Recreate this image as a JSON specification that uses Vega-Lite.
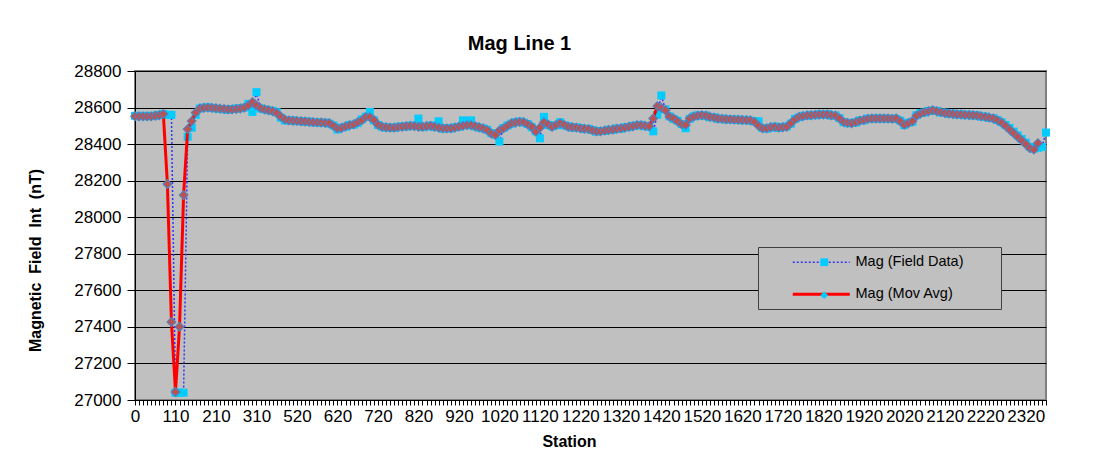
{
 "$schema": "https://vega.github.io/schema/vega-lite/v6.json",
 "width": 911,
 "height": 329,
 "autosize": "none",
 "padding": {"left": 135, "top": 71, "right": 61, "bottom": 59},
 "background": "white",
 "title": {"text": "Mag Line 1", "fontSize": 20, "font": "Liberation Sans", "fontWeight": "bold", "color": "black", "anchor": "middle", "frame": "group", "dx": -71, "offset": 8},
 "config": {
  "view": {"fill": "#C0C0C0", "stroke": "#808080", "strokeWidth": 2},
  "font": "Liberation Sans",
  "axisX": {"labelAngle": 0, "labelOverlap": false, "labelFontSize": 17, "labelColor": "black", "tickColor": "black", "tickSize": 5, "domainColor": "black", "titleFontSize": 16, "titleFontWeight": "bold", "titleColor": "black", "titleX": 434, "titleY": 41, "titleBaseline": "middle", "grid": false, "labelPadding": 3, "labelFlush": false},
  "axisY": {"labelFontSize": 17, "labelColor": "black", "tickColor": "black", "tickSize": 8, "domainColor": "black", "gridColor": "black", "gridWidth": 1, "gridOpacity": 1, "titleFontSize": 16, "titleFontWeight": "bold", "titleColor": "black", "titleX": -100, "titleY": 189, "titleAngle": -90, "titleAlign": "center", "titleBaseline": "middle", "labelPadding": 6, "format": "d"}
 },
 "data": {"values": [
  {"s":0,"f":28555,"m":28552},{"s":20,"f":28552,"m":28552},{"s":30,"f":28555,"m":28552},{"s":40,"f":28552,"m":28552},{"s":50,"f":28555,"m":28552},{"s":60,"f":28555,"m":28555},{"s":70,"f":28560,"m":28558},{"s":80,"f":28565,"m":28565},{"s":90,"f":28560,"m":28182},{"s":100,"f":28560,"m":27427},
  {"s":110,"f":27040,"m":27044},{"s":120,"f":27040,"m":27401},{"s":130,"f":27040,"m":28121},{"s":140,"f":28440,"m":28482},{"s":150,"f":28490,"m":28526},{"s":160,"f":28560,"m":28572},{"s":170,"f":28595,"m":28595},{"s":180,"f":28600,"m":28598},{"s":190,"f":28602,"m":28600},{"s":200,"f":28598,"m":28598},
  {"s":210,"f":28595,"m":28596},{"s":220,"f":28592,"m":28594},{"s":230,"f":28590,"m":28592},{"s":240,"f":28588,"m":28590},{"s":250,"f":28592,"m":28590},{"s":260,"f":28595,"m":28592},{"s":270,"f":28596,"m":28595},{"s":280,"f":28600,"m":28600},{"s":290,"f":28620,"m":28612},{"s":300,"f":28576,"m":28630},
  {"s":310,"f":28684,"m":28612},{"s":430,"f":28595,"m":28597},{"s":440,"f":28590,"m":28590},{"s":450,"f":28585,"m":28585},{"s":460,"f":28582,"m":28580},{"s":470,"f":28575,"m":28570},{"s":480,"f":28545,"m":28550},{"s":490,"f":28530,"m":28535},{"s":500,"f":28528,"m":28530},{"s":510,"f":28530,"m":28528},
  {"s":520,"f":28525,"m":28527},{"s":530,"f":28526,"m":28525},{"s":540,"f":28522,"m":28524},{"s":550,"f":28524,"m":28522},{"s":560,"f":28518,"m":28520},{"s":570,"f":28520,"m":28519},{"s":580,"f":28516,"m":28518},{"s":590,"f":28518,"m":28516},{"s":600,"f":28512,"m":28514},{"s":610,"f":28502,"m":28500},
  {"s":620,"f":28480,"m":28486},{"s":630,"f":28490,"m":28488},{"s":640,"f":28495,"m":28497},{"s":650,"f":28505,"m":28503},{"s":660,"f":28506,"m":28508},{"s":670,"f":28515,"m":28520},{"s":680,"f":28535,"m":28530},{"s":690,"f":28550,"m":28548},{"s":700,"f":28576,"m":28548},{"s":710,"f":28530,"m":28532},
  {"s":720,"f":28505,"m":28506},{"s":730,"f":28495,"m":28495},{"s":740,"f":28490,"m":28492},{"s":750,"f":28492,"m":28490},{"s":760,"f":28488,"m":28490},{"s":770,"f":28495,"m":28493},{"s":780,"f":28497,"m":28495},{"s":790,"f":28496,"m":28498},{"s":800,"f":28502,"m":28500},{"s":810,"f":28500,"m":28498},
  {"s":820,"f":28540,"m":28495},{"s":830,"f":28493,"m":28495},{"s":840,"f":28497,"m":28498},{"s":850,"f":28502,"m":28500},{"s":860,"f":28493,"m":28495},{"s":870,"f":28525,"m":28490},{"s":880,"f":28484,"m":28486},{"s":890,"f":28488,"m":28486},{"s":900,"f":28485,"m":28486},{"s":910,"f":28492,"m":28490},
  {"s":920,"f":28495,"m":28496},{"s":930,"f":28530,"m":28500},{"s":940,"f":28503,"m":28504},{"s":950,"f":28530,"m":28504},{"s":960,"f":28497,"m":28498},{"s":970,"f":28490,"m":28492},{"s":980,"f":28486,"m":28486},{"s":990,"f":28478,"m":28476},{"s":1000,"f":28460,"m":28458},{"s":1010,"f":28452,"m":28450},
  {"s":1020,"f":28414,"m":28475},{"s":1030,"f":28488,"m":28486},{"s":1040,"f":28502,"m":28500},{"s":1050,"f":28512,"m":28514},{"s":1060,"f":28520,"m":28518},{"s":1070,"f":28524,"m":28522},{"s":1080,"f":28518,"m":28520},{"s":1090,"f":28510,"m":28508},{"s":1100,"f":28492,"m":28495},{"s":1110,"f":28470,"m":28468},
  {"s":1120,"f":28432,"m":28490},{"s":1130,"f":28549,"m":28519},{"s":1140,"f":28505,"m":28508},{"s":1150,"f":28497,"m":28495},{"s":1160,"f":28503,"m":28505},{"s":1170,"f":28520,"m":28514},{"s":1180,"f":28503,"m":28505},{"s":1190,"f":28497,"m":28495},{"s":1200,"f":28490,"m":28492},{"s":1210,"f":28492,"m":28490},
  {"s":1220,"f":28488,"m":28486},{"s":1230,"f":28482,"m":28484},{"s":1240,"f":28484,"m":28482},{"s":1250,"f":28477,"m":28475},{"s":1260,"f":28468,"m":28470},{"s":1270,"f":28472,"m":28470},{"s":1280,"f":28472,"m":28474},{"s":1290,"f":28479,"m":28477},{"s":1300,"f":28478,"m":28480},{"s":1310,"f":28486,"m":28484},
  {"s":1320,"f":28484,"m":28486},{"s":1330,"f":28492,"m":28490},{"s":1340,"f":28493,"m":28495},{"s":1350,"f":28500,"m":28498},{"s":1360,"f":28502,"m":28504},{"s":1370,"f":28505,"m":28503},{"s":1380,"f":28498,"m":28500},{"s":1390,"f":28495,"m":28498},{"s":1400,"f":28470,"m":28540},{"s":1410,"f":28560,"m":28608},
  {"s":1420,"f":28666,"m":28598},{"s":1430,"f":28590,"m":28585},{"s":1440,"f":28552,"m":28550},{"s":1450,"f":28538,"m":28540},{"s":1460,"f":28528,"m":28525},{"s":1470,"f":28510,"m":28508},{"s":1480,"f":28487,"m":28505},{"s":1490,"f":28538,"m":28540},{"s":1500,"f":28552,"m":28550},{"s":1510,"f":28558,"m":28556},
  {"s":1520,"f":28556,"m":28558},{"s":1530,"f":28557,"m":28555},{"s":1540,"f":28547,"m":28549},{"s":1550,"f":28547,"m":28545},{"s":1560,"f":28538,"m":28540},{"s":1570,"f":28540,"m":28538},{"s":1580,"f":28534,"m":28536},{"s":1590,"f":28537,"m":28535},{"s":1600,"f":28532,"m":28534},{"s":1610,"f":28535,"m":28533},
  {"s":1620,"f":28530,"m":28532},{"s":1630,"f":28533,"m":28531},{"s":1640,"f":28528,"m":28530},{"s":1650,"f":28524,"m":28522},{"s":1660,"f":28525,"m":28500},{"s":1670,"f":28488,"m":28486},{"s":1680,"f":28484,"m":28486},{"s":1690,"f":28490,"m":28492},{"s":1700,"f":28496,"m":28494},{"s":1710,"f":28488,"m":28490},
  {"s":1720,"f":28494,"m":28492},{"s":1730,"f":28497,"m":28495},{"s":1740,"f":28512,"m":28515},{"s":1750,"f":28538,"m":28535},{"s":1760,"f":28547,"m":28549},{"s":1770,"f":28555,"m":28553},{"s":1780,"f":28555,"m":28557},{"s":1790,"f":28560,"m":28558},{"s":1800,"f":28558,"m":28560},{"s":1810,"f":28564,"m":28562},
  {"s":1820,"f":28560,"m":28562},{"s":1830,"f":28564,"m":28562},{"s":1840,"f":28556,"m":28558},{"s":1850,"f":28557,"m":28555},{"s":1860,"f":28542,"m":28540},{"s":1870,"f":28520,"m":28522},{"s":1880,"f":28514,"m":28516},{"s":1890,"f":28516,"m":28514},{"s":1900,"f":28518,"m":28520},{"s":1910,"f":28530,"m":28528},
  {"s":1920,"f":28530,"m":28532},{"s":1930,"f":28540,"m":28538},{"s":1940,"f":28538,"m":28540},{"s":1950,"f":28542,"m":28540},{"s":1960,"f":28538,"m":28540},{"s":1970,"f":28542,"m":28540},{"s":1980,"f":28538,"m":28540},{"s":1990,"f":28540,"m":28538},{"s":2000,"f":28538,"m":28540},{"s":2010,"f":28528,"m":28525},
  {"s":2020,"f":28504,"m":28506},{"s":2030,"f":28517,"m":28515},{"s":2040,"f":28522,"m":28525},{"s":2050,"f":28558,"m":28555},{"s":2060,"f":28570,"m":28567},{"s":2070,"f":28573,"m":28575},{"s":2080,"f":28582,"m":28580},{"s":2090,"f":28583,"m":28585},{"s":2100,"f":28582,"m":28580},{"s":2110,"f":28573,"m":28575},
  {"s":2120,"f":28572,"m":28570},{"s":2130,"f":28565,"m":28567},{"s":2140,"f":28567,"m":28565},{"s":2150,"f":28561,"m":28563},{"s":2160,"f":28564,"m":28562},{"s":2170,"f":28558,"m":28560},{"s":2180,"f":28561,"m":28559},{"s":2190,"f":28556,"m":28558},{"s":2200,"f":28558,"m":28556},{"s":2210,"f":28550,"m":28552},
  {"s":2220,"f":28551,"m":28549},{"s":2230,"f":28543,"m":28545},{"s":2240,"f":28542,"m":28540},{"s":2250,"f":28532,"m":28530},{"s":2260,"f":28520,"m":28518},{"s":2270,"f":28505,"m":28500},{"s":2280,"f":28488,"m":28480},{"s":2290,"f":28468,"m":28460},{"s":2300,"f":28448,"m":28440},{"s":2310,"f":28428,"m":28420},
  {"s":2320,"f":28408,"m":28400},{"s":2330,"f":28385,"m":28378},{"s":2340,"f":28375,"m":28370},{"s":2350,"f":28380,"m":28405},{"s":2360,"f":28384,"m":null},{"s":2370,"f":28463,"m":null}
 ]},
 "encoding": {
  "x": {"field": "s", "type": "ordinal", "sort": null, "scale": {"type": "point", "padding": 0}, "axis": {"title": "Station", "labelExpr": "indexof([0,110,210,310,520,620,720,820,920,1020,1120,1220,1320,1420,1520,1620,1720,1820,1920,2020,2120,2220,2320], datum.value) >= 0 ? datum.label : ''"}}
 },
 "layer": [
  {
   "mark": {"type": "line", "strokeDash": [2, 2], "strokeWidth": 1.5},
   "encoding": {
    "y": {"field": "f", "type": "quantitative", "scale": {"domain": [27000, 28800], "nice": false, "zero": false}, "axis": {"title": "Magnetic\u00a0 Field\u00a0 Int\u00a0 (nT)", "values": [27000,27200,27400,27600,27800,28000,28200,28400,28600,28800]}},
    "color": {"datum": "Mag (Field Data)", "type": "nominal", "scale": {"domain": ["Mag (Field Data)", "Mag (Mov Avg)"], "range": ["#3333FF", "#FF0000"]},
     "legend": {"orient": "none", "legendX": 623, "legendY": 176, "title": "xxxx", "titleOrient": "right", "titleFontSize": 12, "titleOpacity": 0, "titlePadding": 3, "symbolType": "stroke", "symbolSize": 3249, "labelFontSize": 14.5, "labelFont": "Liberation Sans", "labelColor": "black", "fillColor": "#C0C0C0", "strokeColor": "#404040", "padding": 8, "symbolOffset": 48, "rowPadding": 17, "labelOffset": 27,
      "encode": {"symbols": {"update": {"strokeDash": {"signal": "datum.value == 'Mag (Field Data)' ? [2,2] : [1,0]"}, "strokeWidth": {"signal": "datum.value == 'Mag (Field Data)' ? 1.5 : 3"}}}}}}
   }
  },
  {
   "mark": {"type": "point", "shape": "square", "filled": true, "size": 64, "color": "#00CCFF", "opacity": 1},
   "encoding": {
    "y": {"field": "f", "type": "quantitative", "scale": {"domain": [27000, 28800], "nice": false, "zero": false}, "axis": {"title": "Magnetic\u00a0 Field\u00a0 Int\u00a0 (nT)", "values": [27000,27200,27400,27600,27800,28000,28200,28400,28600,28800]}},
    "shape": {"datum": "field marker", "type": "nominal", "scale": {"domain": ["field marker", "mov marker"], "range": ["square", "diamond"]},
     "legend": {"orient": "none", "legendX": 623, "legendY": 176, "title": null, "symbolSize": 60, "labelFontSize": 14.5, "labelExpr": "''", "fillColor": null, "strokeColor": null, "padding": 8, "symbolOffset": 51, "rowPadding": 17, "labelOffset": 0,
      "encode": {"symbols": {"update": {"fill": {"signal": "datum.value == 'field marker' ? '#00CCFF' : '#C0504D'"}, "stroke": {"signal": "datum.value == 'field marker' ? '#00CCFF' : '#4F81BD'"}, "strokeWidth": {"value": 1}, "opacity": {"value": 1}, "fillOpacity": {"value": 1}, "strokeOpacity": {"value": 1}}}}}}
   }
  },
  {
   "mark": {"type": "line", "strokeWidth": 3},
   "encoding": {
    "y": {"field": "m", "type": "quantitative", "scale": {"domain": [27000, 28800], "nice": false, "zero": false}, "axis": {"title": "Magnetic\u00a0 Field\u00a0 Int\u00a0 (nT)", "values": [27000,27200,27400,27600,27800,28000,28200,28400,28600,28800]}},
    "color": {"datum": "Mag (Mov Avg)", "type": "nominal"}
   }
  },
  {
   "mark": {"type": "point", "filled": true, "size": 75, "fill": "#C0504D", "stroke": "#5A7DB5", "strokeWidth": 1.2, "opacity": 1},
   "encoding": {
    "y": {"field": "m", "type": "quantitative", "scale": {"domain": [27000, 28800], "nice": false, "zero": false}, "axis": {"title": "Magnetic\u00a0 Field\u00a0 Int\u00a0 (nT)", "values": [27000,27200,27400,27600,27800,28000,28200,28400,28600,28800]}},
    "shape": {"datum": "mov marker", "type": "nominal"}
   }
  }
 ]
}
